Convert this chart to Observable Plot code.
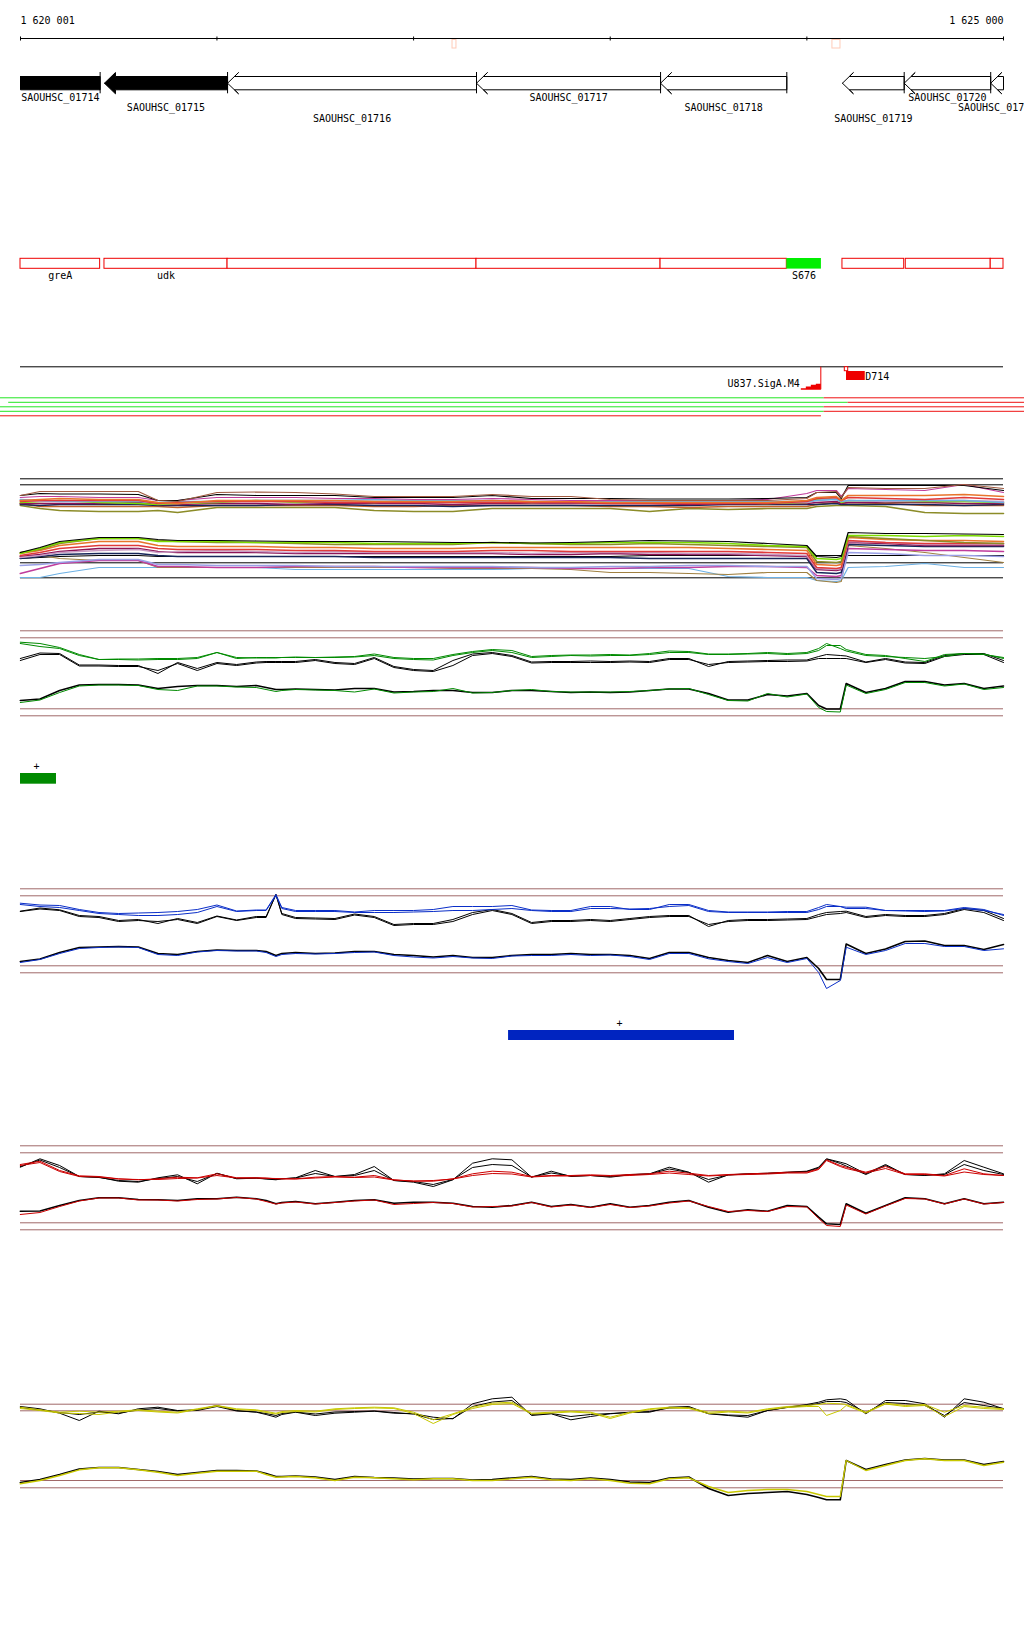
<!DOCTYPE html>
<html><head><meta charset="utf-8">
<script src="https://cdn.jsdelivr.net/npm/d3@7"></script>
<script src="https://cdn.jsdelivr.net/npm/@observablehq/plot@0.6"></script>
<style>
html,body{margin:0;padding:0;background:#fff;}
#chart{width:1024px;}
#chart svg{display:block;}
</style></head><body><div id="chart"></div>
<script>
// ---------- view ----------
const viewStart = 1620001, viewEnd = 1625000;
const axisLabels = ["1 620 001", "1 625 000"];
const axisTicks = [1620001, 1621000, 1622000, 1623000, 1624000, 1625000];
const markStarts = [1622198, 1624130];
const markEnds = [1622218, 1624171];

// ---------- genes ----------
const geneNames = ["SAOUHSC_01714","SAOUHSC_01715","SAOUHSC_01716","SAOUHSC_01717","SAOUHSC_01718","SAOUHSC_01719","SAOUHSC_01720","SAOUHSC_01721"];
const geneStarts = [1619600, 1620428, 1621054, 1622320, 1623256, 1624181, 1624495, 1624935];
const geneEnds   = [1620406, 1621054, 1622320, 1623256, 1623898, 1624495, 1624935, 1625300];
const geneFilled = [true, true, false, false, false, false, false, false];
const geneLabelLane = [0, 1, 2, 0, 1, 2, 0, 1];

// ---------- regions ----------
const regionStarts = [1620001, 1620428, 1621054, 1622320, 1623256, 1623898, 1624181, 1624503, 1624935];
const regionEnds   = [1620406, 1621054, 1622320, 1623256, 1623898, 1624074, 1624495, 1624935, 1625000];
const regionLabels = ["greA", "udk", "", "", "", "S676", "", "", ""];
const regionIsRNA  = [false, false, false, false, false, true, false, false, false];

// ---------- promoters / signals / segments ----------
const promoterNames = ["U837.SigA.M4"];
const promoterPos = [1624071];
const signalNames = ["D714"];
const signalStarts = [1624193];
const signalEnds = [1624297];
const segLane  = [0, 0, 1, 1, 2, 2, 3, 3, 4];
const segStart = [1619899, 1624088, 1619941, 1624210, 1619899, 1624088, 1619899, 1624088, 1619899];
const segEnd   = [1624088, 1625107, 1624210, 1625107, 1624088, 1625107, 1624088, 1625107, 1624074];
const segState = ["on", "off", "on", "off", "on", "off", "on", "off", "off"];

// ---------- feature boxes with strand ----------
const greenBoxStart = [1620001], greenBoxEnd = [1620184], greenBoxStrand = ["+"];
const blueBoxStart = [1622483], blueBoxEnd = [1623632], blueBoxStrand = ["+"];

// ---------- multi-sample track ----------
const MGRID = [1620000,1620100,1620200,1620400,1620600,1620700,1620800,1621000,1621200,1621400,1621600,1621800,1622000,1622200,1622400,1622600,1622800,1623000,1623200,1623400,1623600,1623800,1624000,1624050,1624150,1624175,1624210,1624400,1624600,1624800,1625000];
const multiRefs = [38.3, 44.3, 122.3, 137.3];
const mU1 = [55,51,51,51,51,60,61,52,51.5,52,53.5,56,56,56,54,56,56,59,60,60,60,60,58,52,51,57,47,48,48,44,48];
const mU2 = [55,53,53.5,53.5,54,60,60,54,55,55,55,57,57,57,55,58,58,58,58.5,58.5,58.5,58,57,52,52,58,45,45,45,45,50];
const mU3 = [57,56,56,57,57,60,60,57,57,57,58,58,59,59,58,59,60,60,60,60,60,59,53,50,50,56,48,49,50,44,52];
const mU4 = [60,59,58,59,59,62,63,60,60,60,60,61,61,61,60,61,61,62,62,62,62,62,60,57,56,60,55,55,55,54,56];
const mU5 = [59,60,61,61,61,62,61,61,60,60,60,59,60,60,60,61,61,61,61,61,61,61,61,60,59,61,60,60,60,60,62];
const mU6 = [62,61,60,62,63,64,63,62,60,62,61,62,60,61,61,62,61,62,62,62,62,63,62,59,58,62,60,61,61,61,62];
const mU7 = [61,60,60,60,60,63,62,61,61,61,62,62,62,62,62,62,62,63,63,63,63,63,61,58,57,60,57,58,59,57,59];
const mU8 = [63,63,63,63,62,64,64,63,63,64,63,63,63,64,63,63,63,63,63,64,63,63,63,62,61,63,62,62,62,63,63];
const mU9 = [64,65,64,64,64,65,65,65,65,64,64,65,65,66,65,65,65,65,65,65,64,64,64,64,63,64,64,64,64,65,64];
const mU10 = [65,68,70,71,71,70,72,67,67,67,67,70,71,71,68,68,68,68,71,68,69,68,68,66,65,65,65,66,72,73,73];
const mU11 = [60,61,61,60,60,63,63,61,61,61,61,61,61,62,61,62,62,62,62,62,62,62,62,60,58,61,60,61,60,60,61];
const mU12 = [63,66,66,66,66,66,67,65,65,65,65,66,66,65,65,65,65,66,66,67,66,66,66,64,62,63,62,63,65,65,65];
const mL1 = [112,107,101,97,97,99,100,100,100.5,101,101,101,101.5,102,102,102.5,102,101,100,100.5,101,103,105,116,117,116,92,93,93,93.5,94];
const mL2 = [113,108,102,98,98,101,101,101,102,102,102,103,103,103,102,103,103,102,102,102,103,105,106,118,119,118,95,95,96,95,96];
const mL3 = [112,109,103,98,98,100,101,102,102,103,104,104,104,104,102,103,104,104,103,104,105,106,107,121,122,121,96,98,100,102,103];
const mL4 = [113,110,105,101,101,105,106,106,106,107,107,108,108,108,107,107,107,107,107,107,108,109,110,124,125,124,97,99,100,100,101];
const mL5 = [115,112,108,105,105,108,109,109,109,110,110,111,111,111,110,110,111,111,111,111,111,112,113,127,128,127,100,102,103,103,103];
const mL6 = [116,114,111,108,108,111,112,112,112,113,113,113,113,113,113,114,114,113,114,114,114,115,116,129,130,129,102,103,105,105,105];
const mL7 = [117,115,112,110,109,112,111,110,111,112,111,112,112,112,112,113,112,112,112,113,113,114,115,128,129,128,101,102,104,104,104];
const mL8 = [118,116,114,113,113,115,116,116,116,116,116,117,117,117,117,117,117,117,118,118,118,118,118,132,133,132,104,105,106,106,106];
const mL9 = [137,137,133,127,127,127,127,127,127,129,129,129,129,129,129,128,128,128,128,128,136,137,137,140,141,140,127,126,123,127,127];
const mL10 = [133,128,123,120,120,126,126,127,127,126,126,126,127,127,127,127,128,128,127,127,126,126,127,135,136,135,108,109,110,110,111];
const mL11 = [125,124,122,119,119,124,124,125,125,125,126,126,126,126,126,127,127,126,126,125,125,126,126,138,139,138,112,113,115,115,116];
const mL12 = [116,115,118,120,120,127,127,127,127,127,127,127,127,128,128,128,129,132,132,133,134,132,132,140,142,141,105,108,112,117,122];
const mL13 = [118,117,116,115,115,116,116,116,116,116,116,116,116,116,116,116,116,116,115,115,115,115,115,115,115,115,115,115,115,115,115];

// ---------- profile tracks (shared grid) ----------
const GRID = [1620000,1620100,1620200,1620300,1620400,1620500,1620600,1620700,1620800,1620900,1621000,1621100,1621200,1621250,1621300,1621330,1621400,1621500,1621600,1621700,1621800,1621900,1622000,1622100,1622200,1622300,1622400,1622500,1622600,1622700,1622800,1622900,1623000,1623100,1623200,1623300,1623400,1623500,1623600,1623700,1623800,1623900,1624000,1624060,1624100,1624170,1624200,1624300,1624400,1624500,1624600,1624700,1624800,1624900,1625000];

const greenRefs = [30.3, 37.3, 108.3, 115.3];
const greenTopBlackA = [58,52.5,53,64.5,64.5,65,65,73,62,68,62,64,61.5,61,61,61,61,59,62,63,57,66,69,70,60,53.5,52,55,61.5,61,61,60.5,61,60.5,61,58,58,66,61,60.5,60,59.5,59.5,56,54,55,55.5,61.5,58,61.5,62,55,53,53,60];
const greenTopBlackB = [60,54,54,65.5,65.5,66,66,70,63,70,63,65,62.5,62,62,62,62,60,63,64,58,67,70,71,65,55,53,56,62.5,62,62,62,62,61.5,62,59,59,64,62,61.5,61,61,60.5,58,58,58,58,62,59,62.5,63,56,54,54,62];
const greenTopA = [41.7,43,47,54,59,58.5,58.5,58,58,57,52,58,57,57,57,57,57,57,56.5,56,53.5,57,58,58,54,51,49,50,56,55,54.5,54.5,54,54.5,53,50.5,51,53.5,53.5,53,52,53,52,48,43,48,50.5,55,56,57,58,56,53,53.5,58];
const greenTopB = [43,46,48,55,59,59,59.5,59,59,58,52,57,57.5,57.5,57.5,57,56.5,57,57,56.5,55,58,59,59.5,55,52,50,52,57,56,55,55.5,55,55,54,52,52,54,54,53.5,53,54,53,50,45,45,49,54,55,58,61,54,53,54,57];
const greenLowBlack = [100,98.5,90,84.5,84,84,84.5,88,86,85,85,86,85,87,89,89,88.5,89,89.5,88,88,91.5,91,90,90,92,92,90,90,91,92,91.5,92,91.5,90,88.5,88.5,93,99.5,99.5,94,95.5,93,105,108.5,108.5,83,92,88,81,81,84.5,83,88,85.5];
const greenLow = [102,99.5,92,85.5,84.5,84.5,85,89,90,85.5,85.5,86.5,87,89,91,90,89,89.5,90,91.5,88.5,92.5,91.5,91,88,92.5,92,90,89,91,91.5,91.5,91.5,91,90,88.5,88,94,100,100.5,93,96.5,93.5,107,111,111.5,84.5,93,89,82,82,85.5,83.5,89,87];

const blueRefs = [88.3, 95.3, 165.3, 172.3];
const blueTopBlackA = [110.7,107.5,109.3,115,116,120,119,123,118,122,115.5,119.5,116,116,94,113,117,117.5,118,113.5,116,124,123,123,119,112,109,113,122,120,120,119,120,118,116,115,115,126,120,119,119,118.5,118,114,112,111,110.7,116,114,115,115,113,108,110,118];
const blueTopBlackB = [111,108.5,110,116,117,121,120,121,119,123,116,120,117,117,94,114,118,118.5,119,114.5,117,125,124,124,121,114,110,114,123,121,121,120,121,119,117,116,116,124,121,120,120,119.5,119,116,114,113,112,117,115,116,116,114,109,112,120];
const blueTopA = [102.7,104.5,105,109,112,113,112.5,112,111,109,104.5,110.5,109.5,109.5,94,107,110,110,110,111.5,110,110,110,109,106,106,106,105,109.5,110,110,106,106,109,109,104,104,110,111.5,111.5,111.5,111,111,107,104,106,106.7,106.7,110,110,110,110,107,109,115];
const blueTopB = [104,106,107,110,113,114,115,115,114,112,106,111,110,110,95,108,111,111,111,112,112,112,111.5,111,110,110,109,108,110,111,111,108,108,108.5,108,106,105,111,112,112,112,112,112,109,106,106,108,108,110,110.5,111,110.5,108,110,114];
const blueLowBlack = [161,158.5,152,147,146.5,146,146.5,153,154,151,149.5,150,150,151,155,153,152,153,152.5,151,151,154,155,156.5,155,157,157,155,154,154,153,154,154,155,158,152,152,157,160,162,155,161,157,168,179,179,143.5,153,148.5,141,140.5,145,145,149,144];
const blueLow = [162,159,153,148,147,146.5,147,154,155,151.5,150,150.5,150.5,152,156,154,153,153.5,153,152,151.5,155,156.5,157.5,156,157.5,158,155.5,155,155,154,155,154.5,156,159,153,153,158.3,161,163,157,162,158,172,188,180,146.7,154,150,143,143,146,146,150,148.3];

const redRefs = [45.3, 52.3, 122.3, 129.3];
const redTopBlackA = [66.7,58.3,65,76,76.7,80.7,81.7,77.3,74.3,83.3,72.7,78.3,77.7,78.5,79.3,78.3,77.3,70,76,74,66,80,81.7,86,79.3,62.7,58.3,59.3,76.7,70.7,76,75,76.7,74.3,73.3,66.7,71.7,81.7,74.3,73.3,72.7,71.7,70.7,66.7,58.3,61.7,63.3,73.3,64,74,75,73.3,60,66.7,73.3];
const redTopBlackB = [66,59.5,67,76,77,80,81,78,76,81,73,78,77.5,78.3,79,78.3,77.5,73,76,75,70,80,81,84,79,67,64,65,76.5,72.5,75.5,75,76,74,73.5,68.5,72,79,74.5,73.5,73,72,71,67.5,58.5,63,65.5,74,65,74,74.5,74,64,70,74];
const redTopA = [64,60.7,70,75.3,76,78.3,79.3,78.3,76.7,77.3,73.3,77.3,77.3,77.5,78.3,78.3,78.3,76.7,76,76.7,75,79.3,80.7,80.7,78.3,73.3,70.7,71.7,76,75,75,74.3,75,74,73.3,70.7,72.7,75,74,73.3,72.7,71.7,71.7,68.3,59.3,65,66.7,71.7,66,73.3,73.3,75,68.3,73.3,75];
const redTopB = [65,62,71,76,76.5,78.5,79,79,78,77.5,75,77.5,77.5,77.8,78,78.3,78.5,77.5,76.5,77,76.5,79.5,80.5,80,78.5,75,73,73.5,76.5,75.5,75.5,75,75.5,75,74,72.5,74,75.5,74.5,74,73.5,72.5,72.5,69,60,66,68,72.5,68,74,74,75.5,71.5,74,75];
const redLowBlack = [110.7,110.5,105,100,97.3,97.3,99,99.3,100,98.3,98.3,96.7,98.3,100,103.3,102,101,103.3,101.7,100,99.3,102.7,101.7,101.7,102.7,106,106.7,105,101.7,106,104,106.7,103.3,106.7,105,101.7,100,106.7,111.7,109.3,110.7,105,106,116.7,123.3,124,103.3,112.7,105,97.3,98.3,103.3,98.3,103.3,101.7];
const redLow = [114,112,106,100.5,97.5,97.5,99.5,99.5,100.5,99,98.5,97,98.5,101,103.5,102.5,101.5,103.5,102,100.5,99.5,104,103,102,103,106.5,106,105.5,102,106.5,104.5,107,104,107,105.5,102.5,100.5,106,111,110,111,106,106.5,118,125,126,104.5,113.5,105.5,98,98.5,103.5,98.5,103.5,102];

const yellowRefs = [103.7, 110.3, 180, 187.3];
const yellowTopBlackA = [106,108.3,112.7,120,110.7,113.3,108.3,106.7,110,109.3,105,110,111.7,114,116.7,114,111.7,115,112.7,111.7,110.7,112.7,113.3,116.7,118.3,103.3,98.3,96.7,115,113.3,119.3,116,113.3,111.7,111.7,106.7,106,113.3,115,116.7,110,106.7,104,101.7,99.3,98.3,99.3,113.3,100,100,103.3,116.7,98.3,101.7,108.3];
const yellowTopBlackB = [107,109.5,112,114,111.5,112.5,109.5,108,110.5,110,106,110.5,111.5,113,115,113,111.5,113.5,111.5,111,110.5,112,113.5,119,118,106,101.5,100,114,113,116,114,113,112,111,107.5,107,113,114.5,115,110,107,105,103,101,101,102,112,102,103,105,115,102,105,108];
const yellowTopA = [106.7,109.3,111.7,110.7,111.7,110.7,109.3,110.7,111.7,108.3,105,108.3,109.3,111,112.7,111,110,110.7,108.3,107.3,106.7,107.3,111.7,119.3,113.3,106.7,102.7,101.7,112.7,111.7,110.7,111.7,116.7,111.7,108.3,106.7,107.3,111.7,110.7,111.7,108.3,106,105,104,102.7,103.3,104,111.7,102.7,105,104,111.7,105,106.7,108.3];
const yellowTopB = [108,110,112.5,113,114,111.5,110,111.5,112.5,109,105.5,109,110,112,113.5,112,111,111.5,109,108,107.5,108,113,123,114,108,104,103,113.5,112.5,111.5,112.5,118,112.5,109,107.5,108,113,111.5,112.5,109,107,106,106,115,110,105,112.5,103.5,106,105,116,106,108,109];
const yellowLowBlack = [182,179,174,168.5,167,167,169,171,174,172,170,170,170.5,173,176,176,175.5,176.5,179,176,177,177.5,178.5,178,178,179.5,179,177.5,176,178.5,179,177.5,179,181.5,182,177.5,176.5,188,195,193,192,191,194,197,199.3,199.3,160,169,164,159.5,158,159.5,159.5,164,161];
const yellowLow = [183.3,180,175,169.3,167.3,167.3,169.3,171.7,175,172.7,170.7,170.7,170.7,174,176.7,176.5,176,177.3,180,176.7,177.3,178.3,179.3,178.3,178.3,180,180,178.3,176.7,179.3,180,178.3,180,182.7,183.3,178.3,177.3,186,192,190,189,189,191,194,196,196,160,170,165,160,158.3,160,160,165,161.7];

// ---------- drawing ----------
const chart = document.getElementById("chart");
const bpPerPx = (viewEnd - viewStart) / 983;
const px = n => n * bpPerPx;
const FONT = "'DejaVu Sans Mono', 'Liberation Mono', monospace";

function makePlot(h, marks) {
  return Plot.plot({
    width: 1024, height: h,
    marginTop: 0, marginRight: 0, marginBottom: 0, marginLeft: 0,
    x: {domain: [viewStart, viewEnd], range: [20, 1003], axis: null},
    y: {domain: [0, h], range: [0, h], axis: null},
    style: {fontFamily: FONT, fontSize: "10px", background: "white", color: "black", overflow: "hidden"},
    marks
  });
}

// annotation plot
const G_TOP2 = 72, G_TOP = 76, G_MID = 82.7, G_BOT = 89.3, G_BOT2 = 93.3;
const head = px(11);
const filledPts = [], openPts = [];
geneNames.forEach((name, i) => {
  const a = geneStarts[i], b = geneEnds[i];
  const ac = Math.max(a, viewStart), bc = Math.min(b, viewEnd);
  let pts;
  if (a >= viewStart) {
    if (geneFilled[i]) {
      pts = [[a, G_MID], [a + head, G_TOP2], [a + head, G_TOP], [bc, G_TOP], [bc, G_BOT], [a + head, G_BOT], [a + head, G_BOT2], [a, G_MID]];
    } else {
      const back = a + 0.63 * head;
      pts = [[a, G_MID], [a + head, G_TOP2], [back, G_TOP], [bc, G_TOP], [bc, G_BOT], [back, G_BOT], [a + head, G_BOT2], [a, G_MID]];
    }
  } else {
    pts = [[ac, G_TOP], [bc, G_TOP], [bc, G_BOT], [ac, G_BOT], [ac, G_TOP]];
  }
  (geneFilled[i] ? filledPts : openPts).push(...pts.map(([x, y]) => ({x, y, g: name})));
});
const geneCenters = geneNames.map((_, i) => (Math.max(geneStarts[i], viewStart) + Math.min(geneEnds[i], viewEnd)) / 2);
const laneRows = [97.5, 107, 118];
const geneTickPos = geneEnds.filter(e => e <= viewEnd);

const regionIdx = regionStarts.map((_, i) => i);
const regionCenters = regionIdx.map(i => (regionStarts[i] + regionEnds[i]) / 2);

const promoterShape = [];
promoterPos.forEach((p, k) => {
  [[-20, 389.3], [-20, 387.7], [-15, 387.7], [-15, 386], [-10, 386], [-10, 384.3], [-5, 384.3], [-5, 383.3], [0, 383.3], [0, 389.3], [-20, 389.3]]
    .forEach(([dx, y]) => promoterShape.push({x: p + px(dx), y, g: promoterNames[k]}));
});

const segIdx = segLane.map((_, i) => i);
const segRow = i => 397.3 + 4.5 * segLane[i];

const annot = makePlot(440, [
  Plot.text([axisLabels[0]], {x: [viewStart], y: [20.5], text: d => d, textAnchor: "start"}),
  Plot.text([axisLabels[1]], {x: [viewEnd], y: [20.5], text: d => d, textAnchor: "end"}),
  Plot.ruleY([38], {x1: viewStart, x2: viewEnd, y: d => d, stroke: "black"}),
  Plot.ruleX(axisTicks, {x: d => d, y1: 36.5, y2: 40.5, stroke: "black"}),
  Plot.rect(markStarts, {x1: markStarts, x2: markEnds, y1: 39.5, y2: 48, fill: "none", stroke: "#ffcbb8"}),
  Plot.line(filledPts, {x: "x", y: "y", z: "g", fill: "black", stroke: "black", strokeWidth: 1, strokeLinejoin: "miter"}),
  Plot.line(openPts, {x: "x", y: "y", z: "g", fill: "white", stroke: "black", strokeWidth: 1, strokeLinejoin: "miter"}),
  Plot.ruleX(geneTickPos, {x: d => d, y1: G_TOP2, y2: G_BOT2, stroke: "black"}),
  Plot.text(geneNames, {x: geneCenters, y: geneLabelLane.map(l => laneRows[l]), text: d => d}),
  Plot.rect(regionIdx.filter(i => !regionIsRNA[i]), {x1: i => regionStarts[i], x2: i => regionEnds[i], y1: 258.3, y2: 268.3, fill: "white", stroke: "#ee0000"}),
  Plot.rect(regionIdx.filter(i => regionIsRNA[i]), {x1: i => regionStarts[i], x2: i => regionEnds[i], y1: 258, y2: 268.6, fill: "#00ee00"}),
  Plot.text(regionIdx.filter(i => regionLabels[i]), {x: i => regionCenters[i], y: 275.5, text: i => regionLabels[i]}),
  Plot.ruleY([366.3], {x1: viewStart, x2: viewEnd, y: d => d, stroke: "black"}),
  Plot.line(promoterShape, {x: "x", y: "y", z: "g", fill: "#ee0000", stroke: "none"}),
  Plot.ruleX(promoterPos, {x: d => d, y1: 366.7, y2: 389.3, stroke: "#ee0000"}),
  Plot.text(promoterNames, {x: promoterPos.map(p => p - px(21)), y: 383.3, text: d => d, textAnchor: "end"}),
  Plot.rect(signalStarts, {x1: signalStarts, x2: signalStarts.map(s => s + px(3.4)), y1: 366.7, y2: 370.7, fill: "white", stroke: "#ee0000"}),
  Plot.rect(signalStarts, {x1: signalStarts.map(s => s + px(1.7)), x2: signalEnds, y1: 371, y2: 380, fill: "#ee0000"}),
  Plot.text(signalNames, {x: signalEnds, y: 376, text: d => d, textAnchor: "start"}),
  Plot.ruleY(segIdx.filter(i => segState[i] === "on"), {y: segRow, x1: i => segStart[i], x2: i => segEnd[i], stroke: "#22e622"}),
  Plot.ruleY(segIdx.filter(i => segState[i] === "off"), {y: segRow, x1: i => segStart[i], x2: i => segEnd[i], stroke: "#ee1111"})
]);
chart.appendChild(annot);

function profile(h, refs, refColor, xs, series, extra = []) {
  return makePlot(h, [
    Plot.ruleY(refs, {x1: viewStart, x2: viewEnd, y: d => d, stroke: refColor}),
    ...series.map(([vals, color, w]) => Plot.line(vals, {x: xs, y: vals, stroke: color, strokeWidth: w || 1})),
    ...extra
  ]);
}

const C = {brown: "#a05a40", black: "#000000", magenta: "#c03c9c", orange: "#e8742c", lblue: "#6cb0e4", lime: "#7cdc00",
  red: "#e03a3a", maroon: "#8c1456", navy: "#16265a", olive: "#8c8c28", mauve: "#c89cc4", sienna: "#c0622a", lav: "#9aa0e6", ochre: "#a08040"};

const MW = 1.6;
chart.appendChild(profile(160, multiRefs, "black", MGRID, [
  [mU10, C.olive, MW], [mU12, C.sienna, MW], [mU9, C.navy, MW], [mU8, C.maroon, MW], [mU6, C.lime, MW], [mU11, C.mauve, MW], [mU5, C.lblue, MW], [mU7, C.red, MW], [mU4, C.orange, MW], [mU3, C.magenta, 1.2], [mU2, C.black, 1.2], [mU1, C.brown, 1.2],
  [mL13, C.black, 1.2], [mL9, C.lblue, 1.2], [mL12, C.ochre, 1.2], [mL10, C.magenta, MW], [mL11, C.lav, MW], [mL8, C.navy, MW], [mL6, C.maroon, MW], [mL7, C.mauve, MW], [mL5, C.red, MW], [mL4, C.orange, MW], [mL3, C.olive, MW], [mL2, C.lime, MW], [mL1, C.black, 1.2]
]));

const FRAME = "#a06868";
chart.appendChild(profile(200, greenRefs, FRAME, GRID, [
  [greenTopBlackA, "black"], [greenTopBlackB, "black"], [greenTopA, "#008a00"], [greenTopB, "#008a00"],
  [greenLowBlack, "black", 1.6], [greenLow, "#008a00"]
], [
  Plot.rect(greenBoxStart, {x1: greenBoxStart, x2: greenBoxEnd, y1: 173, y2: 183.7, fill: "#008a00"}),
  Plot.text(greenBoxStrand, {x: greenBoxStart.map((s, i) => (s + greenBoxEnd[i]) / 2 - px(2)), y: 166, text: d => d})
]));

chart.appendChild(profile(300, blueRefs, FRAME, GRID, [
  [blueTopBlackA, "black"], [blueTopBlackB, "black"], [blueTopA, "#0a2ec8"], [blueTopB, "#0a2ec8"],
  [blueLowBlack, "black", 1.6], [blueLow, "#0a2ec8"]
], [
  Plot.rect(blueBoxStart, {x1: blueBoxStart, x2: blueBoxEnd, y1: 230, y2: 240, fill: "#0024c0"}),
  Plot.text(blueBoxStrand, {x: blueBoxStart.map((s, i) => (s + blueBoxEnd[i]) / 2 - px(2)), y: 223.3, text: d => d})
]));

chart.appendChild(profile(200, redRefs, FRAME, GRID, [
  [redTopBlackA, "black"], [redTopBlackB, "black"], [redTopA, "#cc0000"], [redTopB, "#cc0000"],
  [redLowBlack, "black", 1.6], [redLow, "#cc0000"]
]));

chart.appendChild(profile(340, yellowRefs, FRAME, GRID, [
  [yellowTopBlackA, "black"], [yellowTopBlackB, "black"], [yellowTopA, "#c8c800"], [yellowTopB, "#c8c800"],
  [yellowLowBlack, "black", 1.6], [yellowLow, "#c8c800", 1.4]
]));
</script></body></html>
